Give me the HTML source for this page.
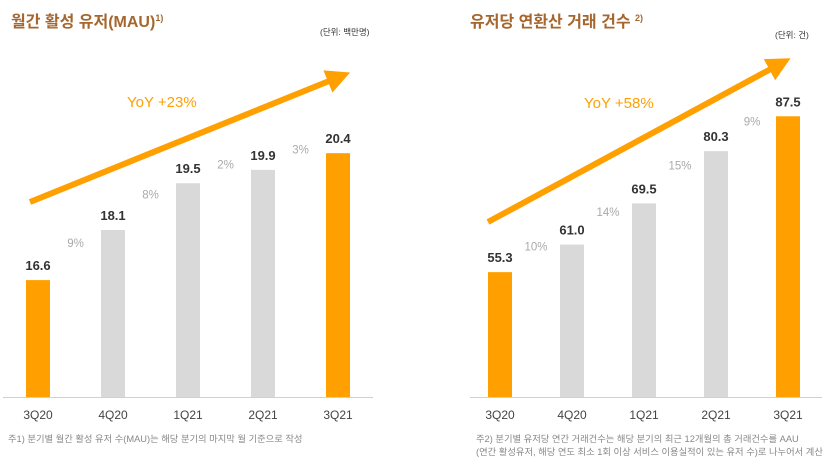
<!DOCTYPE html>
<html><head><meta charset="utf-8"><style>
body{margin:0;width:835px;height:464px;background:#fff;overflow:hidden;font-family:"Liberation Sans","Noto Sans CJK KR",sans-serif}
svg{position:absolute;left:0;top:0}
</style></head><body>
<svg width="835" height="464">
<defs><marker id="ah" markerWidth="4" markerHeight="4" refX="2" refY="2" orient="auto" markerUnits="strokeWidth"><path d="M0,0 L4,2 L0,4 Z" fill="#ffa000"/></marker></defs>
<g id="g"></g>
</svg>
<script>
const categories=["3Q20","4Q20","1Q21","2Q21","3Q21"];
const mauValues=[16.6,18.1,19.5,19.9,20.4];
const mauLabels=["16.6","18.1","19.5","19.9","20.4"];
const mauGrowth=["9%","8%","2%","3%"];
const txnValues=[55.3,61.0,69.5,80.3,87.5];
const txnLabels=["55.3","61.0","69.5","80.3","87.5"];
const txnGrowth=["10%","14%","15%","9%"];
const NS="http://www.w3.org/2000/svg";
const g=document.getElementById('g');
function mk(t,a,txt){const e=document.createElementNS(NS,t);for(const k in a)e.setAttribute(k,a[k]);if(txt!=null)e.textContent=txt;g.appendChild(e);return e;}
function chart(p){
  const base=397;
  const y=v=>base-(v-p.min)*p.scale;
  const x=i=>p.x0+i*p.step;
  const ax=mk('line',{x1:p.ax0,x2:p.ax1,y1:base+0.5,y2:base+0.5,stroke:'#d0d0d0','stroke-width':1});
  
  
  p.vals.forEach((v,i)=>{
    const hi=(i===0||i===p.vals.length-1);
    const r=mk('rect',{x:x(i)-12,y:y(v),width:24,height:base-y(v),fill:hi?'#ffa000':'#d9d9d9'});
    
    
    const t=mk('text',{x:x(i),y:y(v)-10,'text-anchor':'middle','font-size':13,'font-weight':'bold',fill:'#333'},p.labels[i]);
    
    
    const c=mk('text',{x:x(i),y:419,'text-anchor':'middle','font-size':12,fill:'#444'},categories[i]);
    
    
  });
  p.growth.forEach((s,i)=>{
    const yy=(y(p.vals[i])+y(p.vals[i+1]))/2-8;
    const t=mk('text',{x:x(i)+p.step/2,y:yy,'text-anchor':'middle','font-size':11.5,fill:'#aaa'},s);
    
    
  });
}
chart({id:'mau',vals:mauValues,labels:mauLabels,growth:mauGrowth,min:13.1,scale:33.4,x0:38,step:75,ax0:3,ax1:373});
chart({id:'txn',vals:txnValues,labels:txnLabels,growth:txnGrowth,min:29.5,scale:4.84,x0:500,step:72,ax0:470,ax1:822});
</script>
<svg width="835" height="464" style="pointer-events:none">
<line x1="30" y1="202" x2="339" y2="77" stroke="#ffa000" stroke-width="6" marker-end="url(#ah)"/>
<line x1="488" y1="222" x2="780" y2="64" stroke="#ffa000" stroke-width="6" marker-end="url(#ah)"/>
<text x="127" y="107" font-size="15" fill="#ffa000">YoY +23%</text>
<text x="584" y="108" font-size="15" fill="#ffa000">YoY +58%</text>
<text x="11" y="27" font-size="16" font-weight="bold" fill="#a5672f">월간 활성 유저(MAU)<tspan font-size="9" dy="-6">1)</tspan></text>
<text x="470" y="27" font-size="16" font-weight="bold" fill="#a5672f">유저당 연환산 거래 건수 <tspan font-size="9" dy="-6">2)</tspan></text>
<text x="320" y="35" font-size="8.5" fill="#333">(단위: 백만명)</text>
<text x="775" y="38" font-size="8.5" fill="#333">(단위: 건)</text>
<text x="8" y="442" font-size="9.3" fill="#888">주1) 분기별 월간 활성 유저 수(MAU)는 해당 분기의 마지막 월 기준으로 작성</text>
<text x="476" y="442" font-size="9.3" fill="#888">주2) 분기별 유저당 연간 거래건수는 해당 분기의 최근 12개월의 총 거래건수를 AAU</text>
<text x="476" y="455" font-size="9.3" fill="#888">(연간 활성유저, 해당 연도 최소 1회 이상 서비스 이용실적이 있는 유저 수)로 나누어서 계산</text>
</svg>
</body></html>
